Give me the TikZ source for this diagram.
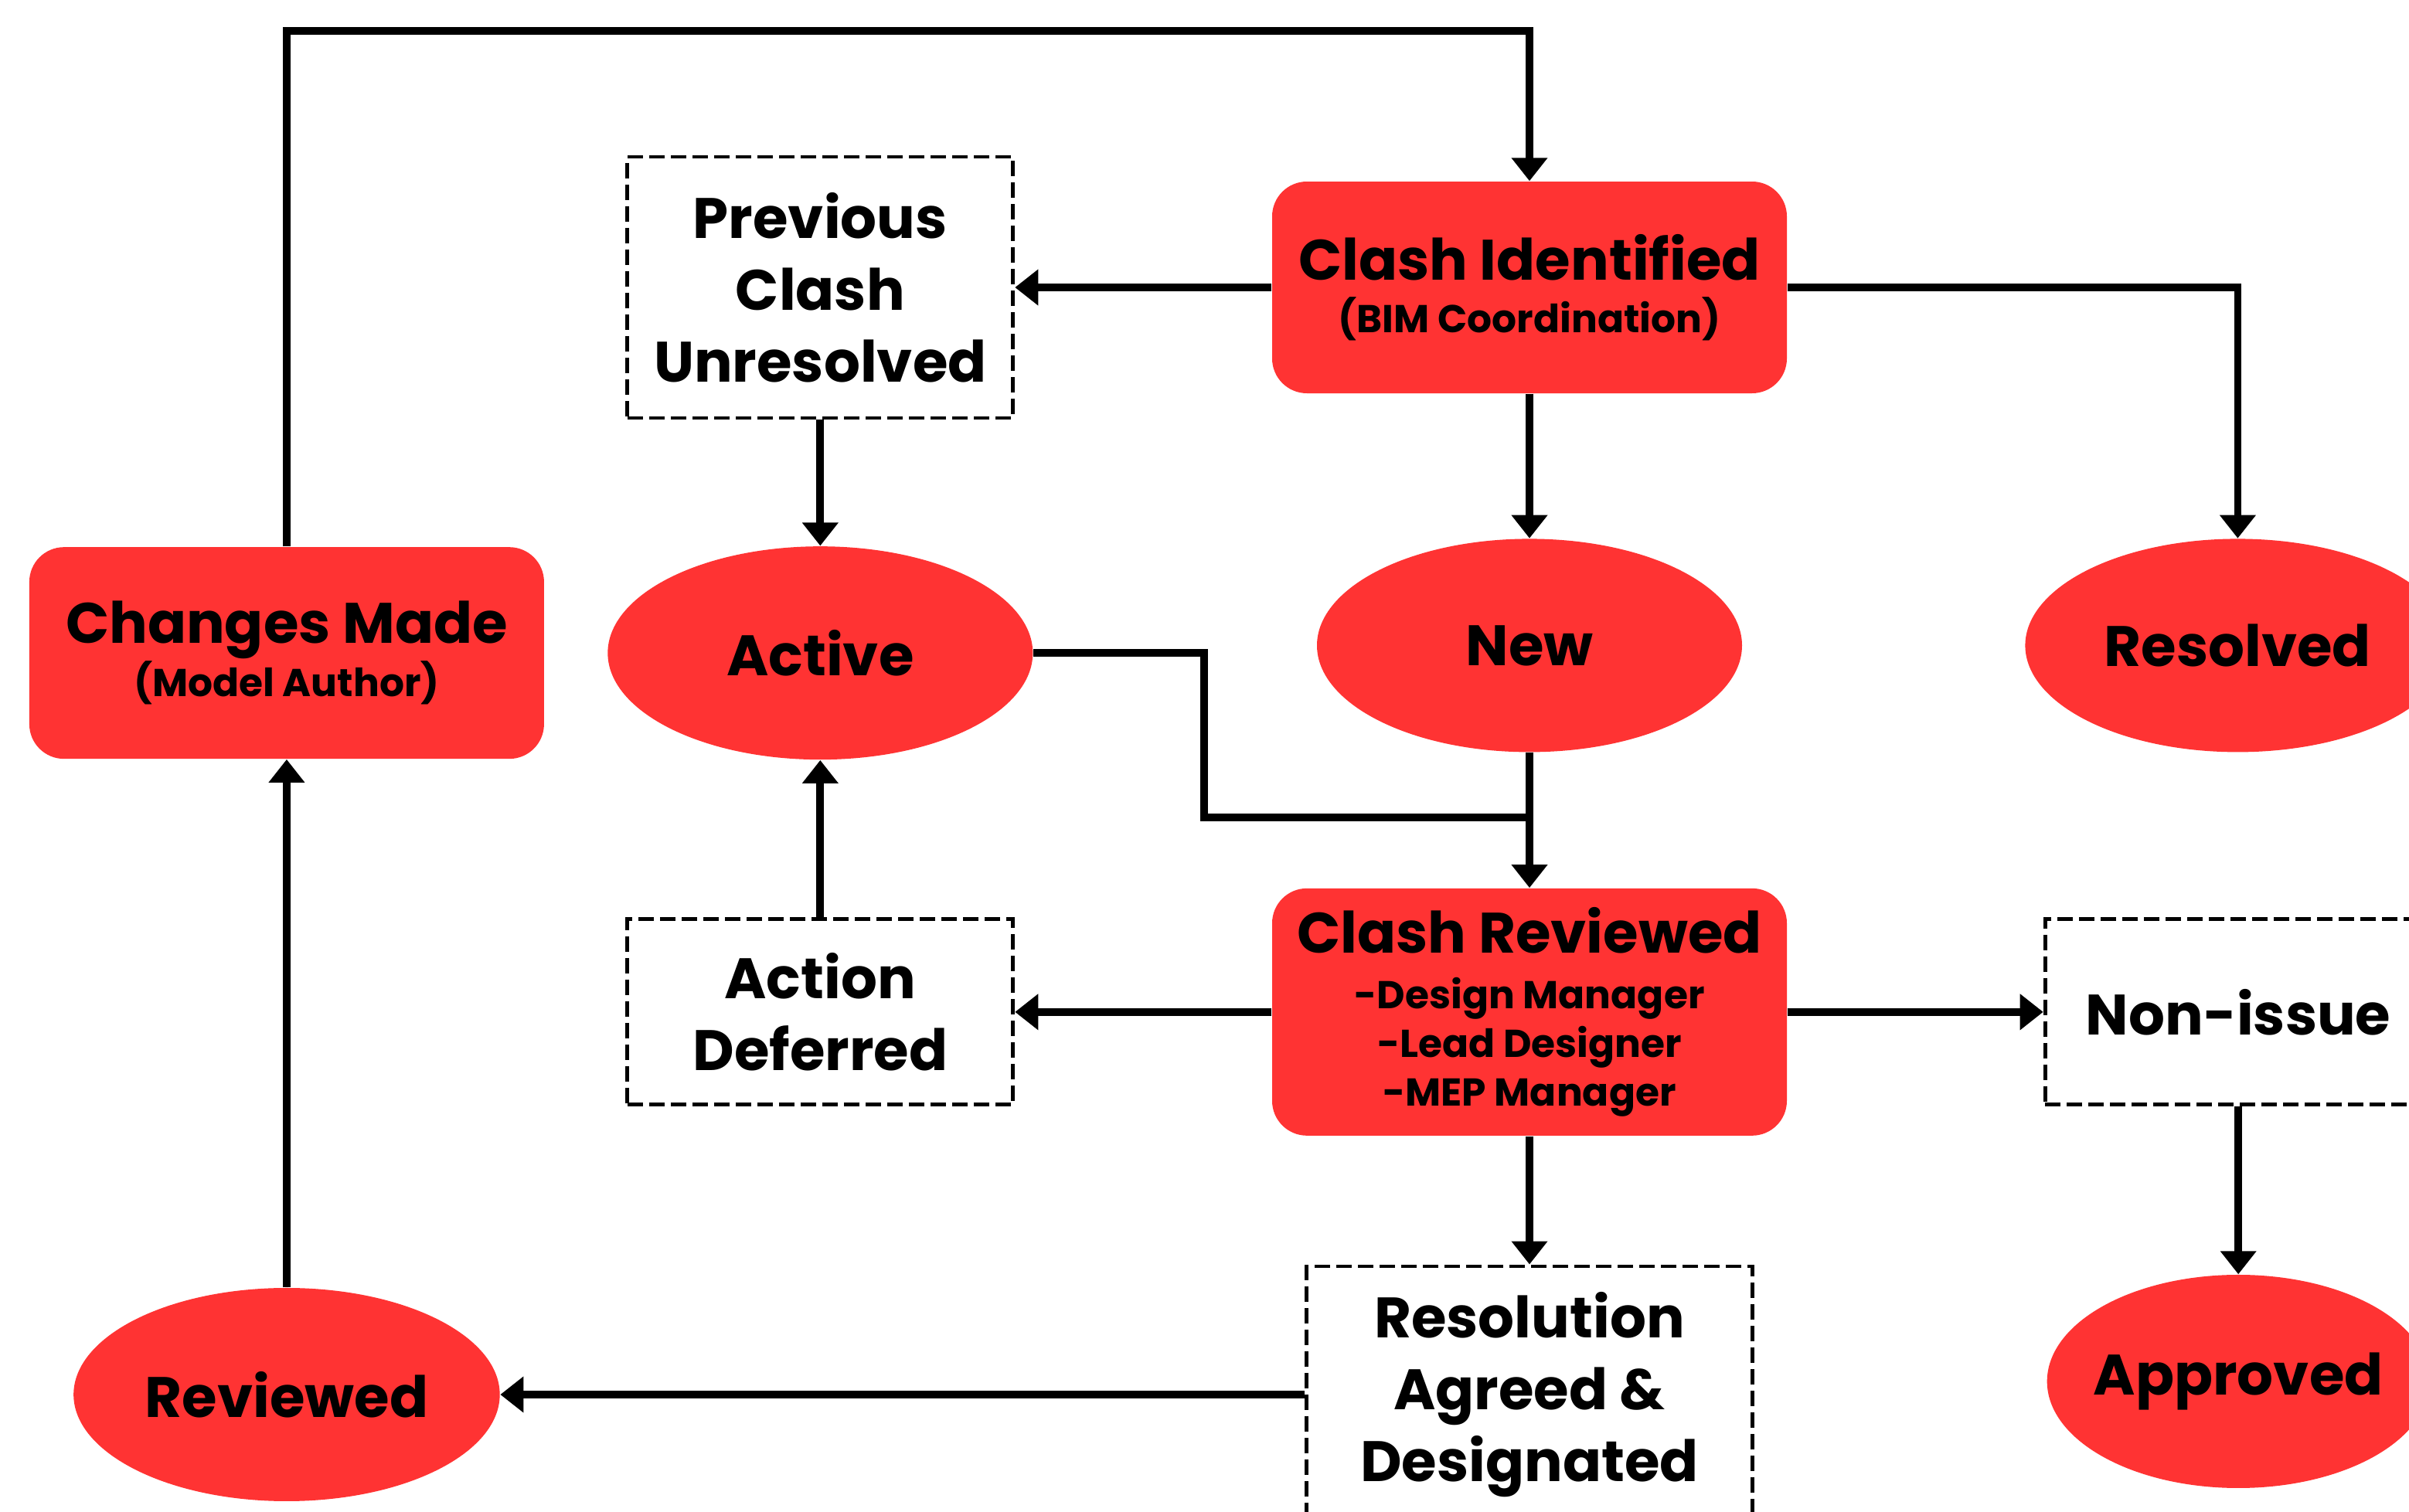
\documentclass[tikz,border=0pt]{standalone}
\usepackage{fontspec}
\setmainfont{Poppins}
\usetikzlibrary{shapes.geometric, arrows.meta, positioning, calc}
\definecolor{clashred}{HTML}{FF3333}
\newcommand{\rolefont}{\fontsize{14.3}{18}\selectfont}

\begin{document}
\begin{tikzpicture}[
    node distance=1.8cm and 3.3cm,
    stage/.style={rectangle, rounded corners=0.45cm, fill=clashred, align=center, minimum width=6.66cm, minimum height=2.74cm, font=\bfseries\fontsize{21}{26.5}\selectfont},
    status/.style={ellipse, fill=clashred, minimum width=5.5cm, minimum height=2.76cm, font=\bfseries\fontsize{21}{26.5}\selectfont},
    option/.style={rectangle, draw, dash pattern=on 0.2cm off 0.08cm, line width=1.4pt, align=center, minimum width=4.99cm, minimum height=2.4cm, font=\bfseries\fontsize{21}{26.5}\selectfont},
    arrow/.style={-{Triangle[length=0.3cm, width=0.45cm]}, line width=2.8pt},
    link/.style={line width=2.8pt},
]
\useasboundingbox (0,0) rectangle (31.17,-19.57);

% Top row
\node[stage] (identified) at (19.79,-3.72) {Clash Identified\\[-7pt]{\rolefont (BIM Coordination)}};
\node[option, left=3.32cm of identified, minimum height=3.38cm] (previous) {Previous\\Clash\\Unresolved};

% Status ellipses
\node[status, below=1.87cm of identified] (new) {New};
\node[status, right=3.65cm of new] (resolved) {Resolved};
\node[status, below=1.63cm of previous] (active) {Active};
\node[stage, left=0.81cm of active] (changes) {Changes Made\\[-7pt]{\rolefont (Model Author)}};

% Review row
\node[stage, below=1.75cm of new, minimum height=3.2cm] (reviewed) {Clash Reviewed\\[-6pt]{\rolefont -Design Manager}\\[-8.5pt]{\rolefont -Lead Designer}\\[-8.5pt]{\rolefont -MEP Manager}};
\node[option, left=3.32cm of reviewed] (deferred) {Action\\Deferred};
\node[option, right=3.31cm of reviewed, minimum width=5cm] (nonissue) {Non-issue};

% Bottom row
\node[status, below=2.17cm of nonissue, minimum width=4.95cm] (approved) {\makebox[0pt]{Approved}};
\node[option, below=1.66cm of reviewed, minimum width=5.77cm, minimum height=3.32cm] (resolution) {Resolution\\Agreed \&\\Designated};
\node[status] (closed) at (changes |- resolution) {Reviewed};

% Joins
\coordinate (loop) at (19.79,-0.40);
\coordinate (merge) at (19.79,-10.58);

% Arrows
\draw[arrow] (changes.north) |- (loop) -- (identified.north);
\draw[arrow] (identified.west) -- (previous.east);
\draw[arrow] (identified.east) -| (resolved.north);
\draw[arrow] (identified) -- (new);
\draw[arrow] (previous) -- (active);

\draw[link] (active.east) -- ++(2.21,0) |- (merge);
\draw[arrow] (new) -- (reviewed);

\draw[arrow] (reviewed.west) -- (deferred.east);
\draw[arrow] (deferred) -- (active);
\draw[arrow] (reviewed.east) -- (nonissue.west);
\draw[arrow] (nonissue) -- (approved);
\draw[arrow] (reviewed) -- (resolution);

\draw[arrow] (resolution.west) -- (closed.east);
\draw[arrow] (closed) -- (changes);

\end{tikzpicture}
\end{document}
